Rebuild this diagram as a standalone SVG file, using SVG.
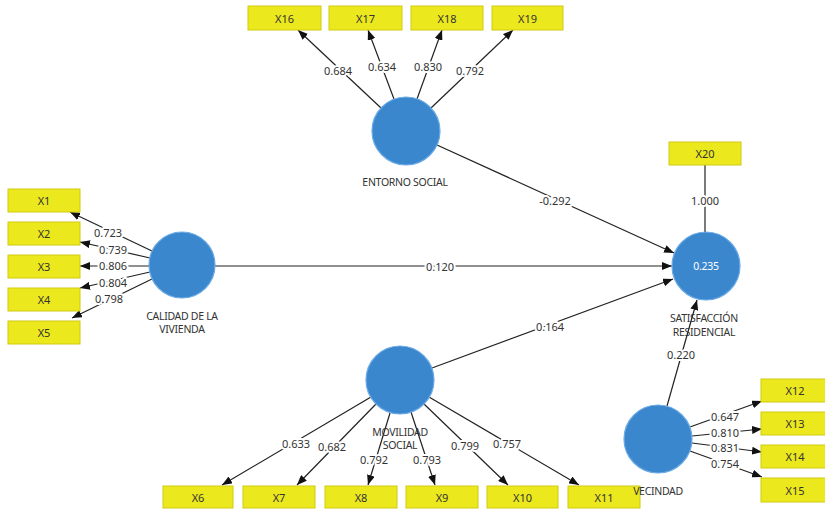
<svg xmlns="http://www.w3.org/2000/svg" width="825" height="511" viewBox="0 0 825 511">
<defs>
<marker id="ah" markerUnits="userSpaceOnUse" markerWidth="10" markerHeight="8" refX="10" refY="4" orient="auto">
<path d="M0,0 L10,4 L0,8 z" fill="#111"/>
</marker>
<style>
.box{fill:#ECE81E;stroke:#CFCB10;stroke-width:1}
.bt{font-family:"Noto Sans","Liberation Sans",sans-serif;font-size:11px;fill:#333;text-anchor:middle;dominant-baseline:central}
.lv{fill:#3B87CD;stroke:#6AAAE6;stroke-width:1.2}
.nt{font-family:"Noto Sans","Liberation Sans",sans-serif;font-size:10.5px;fill:#333;text-anchor:middle;dominant-baseline:central;letter-spacing:-0.3px}
.ln{stroke:#222;stroke-width:1.2;fill:none}
.ar{marker-end:url(#ah)}
.lb{font-family:"Noto Sans","Liberation Sans",sans-serif;font-size:11px;fill:#333;text-anchor:middle;dominant-baseline:central;paint-order:stroke;stroke:#fff;stroke-width:4px;stroke-linejoin:round}
</style>
</defs>
<rect width="825" height="511" fill="#fff"/>

<g id="connectors">
<line class="ln ar" x1="381" y1="108" x2="298" y2="30"/>
<line class="ln ar" x1="394" y1="99" x2="368" y2="30"/>
<line class="ln ar" x1="417" y1="99" x2="442" y2="30"/>
<line class="ln ar" x1="431" y1="108" x2="513" y2="30"/>
<line class="ln ar" x1="152" y1="251" x2="70" y2="212"/>
<line class="ln ar" x1="150" y1="258" x2="80" y2="242"/>
<line class="ln ar" x1="149" y1="266" x2="80" y2="266"/>
<line class="ln ar" x1="150" y1="272" x2="80" y2="288"/>
<line class="ln ar" x1="152" y1="279" x2="72" y2="318"/>
<line class="ln ar" x1="371" y1="397" x2="222" y2="485"/>
<line class="ln ar" x1="376" y1="404" x2="297" y2="485"/>
<line class="ln ar" x1="390" y1="413" x2="368" y2="485"/>
<line class="ln ar" x1="411" y1="412" x2="435" y2="485"/>
<line class="ln ar" x1="424" y1="404" x2="508" y2="485"/>
<line class="ln ar" x1="429" y1="397" x2="579" y2="485"/>
<line class="ln ar" x1="690" y1="427" x2="762" y2="401"/>
<line class="ln ar" x1="692" y1="436" x2="762" y2="429"/>
<line class="ln ar" x1="692" y1="443" x2="762" y2="452"/>
<line class="ln ar" x1="690" y1="451" x2="762" y2="477"/>
<line class="ln" x1="705" y1="165" x2="705" y2="232"/>
<line class="ln ar" x1="437" y1="145" x2="674" y2="253"/>
<line class="ln ar" x1="215" y1="266" x2="672" y2="266"/>
<line class="ln ar" x1="432" y1="368" x2="673" y2="279"/>
<line class="ln ar" x1="667" y1="406" x2="697" y2="300"/>

<text class="lb" x="338" y="70">0.684</text>
<text class="lb" x="382" y="66">0.634</text>
<text class="lb" x="428" y="66">0.830</text>
<text class="lb" x="470" y="70">0.792</text>
<text class="lb" x="108" y="232">0.723</text>
<text class="lb" x="113" y="249">0.739</text>
<text class="lb" x="113" y="265">0.806</text>
<text class="lb" x="113" y="282">0.804</text>
<text class="lb" x="109" y="298">0.798</text>
<text class="lb" x="296" y="443">0.633</text>
<text class="lb" x="332" y="446">0.682</text>
<text class="lb" x="374" y="459">0.792</text>
<text class="lb" x="427" y="459">0.793</text>
<text class="lb" x="465" y="445">0.799</text>
<text class="lb" x="507" y="443">0.757</text>
<text class="lb" x="725" y="416">0.647</text>
<text class="lb" x="725" y="432">0.810</text>
<text class="lb" x="725" y="447">0.831</text>
<text class="lb" x="725" y="463">0.754</text>
<text class="lb" x="705" y="200">1.000</text>
<text class="lb" x="555" y="200">-0.292</text>
<text class="lb" x="440" y="266">0.120</text>
<text class="lb" x="550" y="326">0.164</text>
<text class="lb" x="681" y="354">0.220</text>
</g>

<g id="X16"><rect class="box" x="248" y="6" width="73" height="24"/><text class="bt" x="284.5" y="18">X16</text></g>
<g id="X17"><rect class="box" x="329" y="6" width="73" height="24"/><text class="bt" x="365.5" y="18">X17</text></g>
<g id="X18"><rect class="box" x="411" y="6" width="72" height="24"/><text class="bt" x="447" y="18">X18</text></g>
<g id="X19"><rect class="box" x="492" y="6" width="71" height="24"/><text class="bt" x="527.5" y="18">X19</text></g>
<g id="X1"><rect class="box" x="8" y="189" width="72" height="23"/><text class="bt" x="44" y="200.5">X1</text></g>
<g id="X2"><rect class="box" x="8" y="222" width="72" height="23"/><text class="bt" x="44" y="233.5">X2</text></g>
<g id="X3"><rect class="box" x="8" y="255" width="72" height="23"/><text class="bt" x="44" y="266.5">X3</text></g>
<g id="X4"><rect class="box" x="8" y="288" width="72" height="23"/><text class="bt" x="44" y="299.5">X4</text></g>
<g id="X5"><rect class="box" x="8" y="321" width="72" height="23"/><text class="bt" x="44" y="332.5">X5</text></g>
<g id="X6"><rect class="box" x="163" y="486" width="70" height="22"/><text class="bt" x="198" y="497">X6</text></g>
<g id="X7"><rect class="box" x="243" y="486" width="72" height="22"/><text class="bt" x="279" y="497">X7</text></g>
<g id="X8"><rect class="box" x="325" y="486" width="72" height="22"/><text class="bt" x="361" y="497">X8</text></g>
<g id="X9"><rect class="box" x="406" y="486" width="72" height="22"/><text class="bt" x="442" y="497">X9</text></g>
<g id="X10"><rect class="box" x="487" y="486" width="71" height="22"/><text class="bt" x="522.5" y="497">X10</text></g>
<g id="X11"><rect class="box" x="568" y="486" width="72" height="22"/><text class="bt" x="604" y="497">X11</text></g>
<g id="X12"><rect class="box" x="761" y="379" width="66" height="23"/><text class="bt" x="795" y="390.5">X12</text></g>
<g id="X13"><rect class="box" x="761" y="412" width="66" height="23"/><text class="bt" x="795" y="423.5">X13</text></g>
<g id="X14"><rect class="box" x="761" y="445" width="66" height="23"/><text class="bt" x="795" y="456.5">X14</text></g>
<g id="X15"><rect class="box" x="761" y="478" width="66" height="24"/><text class="bt" x="795" y="490">X15</text></g>
<g id="X20"><rect class="box" x="669" y="142" width="72" height="23"/><text class="bt" x="705" y="153.5">X20</text></g>

<g id="entorno-social"><circle class="lv" cx="406" cy="131" r="34"/><text class="nt" x="405" y="182">ENTORNO SOCIAL</text></g>
<g id="calidad-vivienda"><circle class="lv" cx="182" cy="265" r="33"/><text class="nt" x="182" y="316">CALIDAD DE LA</text><text class="nt" x="182" y="329">VIVIENDA</text></g>
<g id="movilidad-social"><circle class="lv" cx="400" cy="380" r="34"/><text class="nt" x="400" y="432">MOVILIDAD</text><text class="nt" x="400" y="445">SOCIAL</text></g>
<g id="vecindad"><circle class="lv" cx="658" cy="439" r="34"/><text class="nt" x="658" y="491">VECINDAD</text></g>
<g id="satisfaccion-residencial"><circle class="lv" cx="706" cy="266" r="34"/><text class="nt" x="706" y="266" style="fill:#fff">0.235</text><text class="nt" x="704" y="318">SATISFACCIÓN</text><text class="nt" x="704" y="332">RESIDENCIAL</text></g>
</svg>
